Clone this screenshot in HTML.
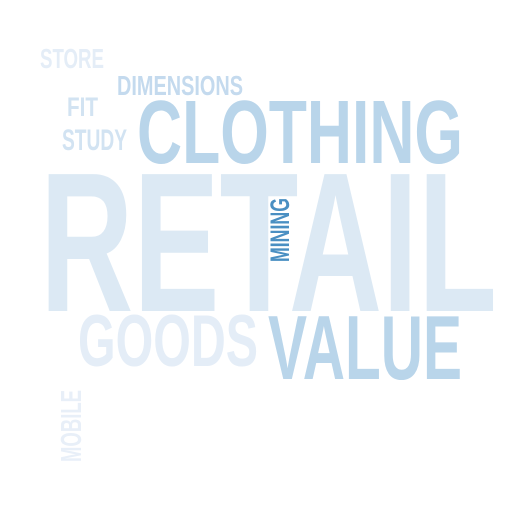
<!DOCTYPE html>
<html><head><meta charset="utf-8"><style>
html,body{margin:0;padding:0;background:#fff;}
svg text{font-family:"Liberation Sans",sans-serif;font-weight:bold;}
</style></head><body>
<svg width="512" height="512" viewBox="0 0 512 512">
<text x="40" y="68" font-size="28" fill="#e4edf7" textLength="64" lengthAdjust="spacingAndGlyphs">STORE</text>
<text x="117" y="95" font-size="28" fill="#c4daee" textLength="126" lengthAdjust="spacingAndGlyphs">DIMENSIONS</text>
<text x="67" y="116" font-size="27" fill="#d2e3f2" textLength="31" lengthAdjust="spacingAndGlyphs">FIT</text>
<text x="62" y="150" font-size="30" fill="#d2e3f2" textLength="65" lengthAdjust="spacingAndGlyphs">STUDY</text>
<text x="137" y="163" font-size="90" fill="#b9d5ea" textLength="326" lengthAdjust="spacingAndGlyphs">CLOTHING</text>
<text x="40" y="311" font-size="199" fill="#dce9f4" textLength="457" lengthAdjust="spacingAndGlyphs">RETAIL</text>
<text transform="translate(289,262) rotate(-90)" x="0" y="0" font-size="27" fill="#4a8fc2" textLength="64" lengthAdjust="spacingAndGlyphs">MINING</text>
<text x="78" y="366" font-size="73" fill="#e4edf7" textLength="180" lengthAdjust="spacingAndGlyphs">GOODS</text>
<text x="268" y="379" font-size="91" fill="#b9d5ea" textLength="194" lengthAdjust="spacingAndGlyphs">VALUE</text>
<text transform="translate(81,462) rotate(-90)" x="0" y="0" font-size="29" fill="#e8eff8" textLength="72" lengthAdjust="spacingAndGlyphs">MOBILE</text>
</svg>
</body></html>
